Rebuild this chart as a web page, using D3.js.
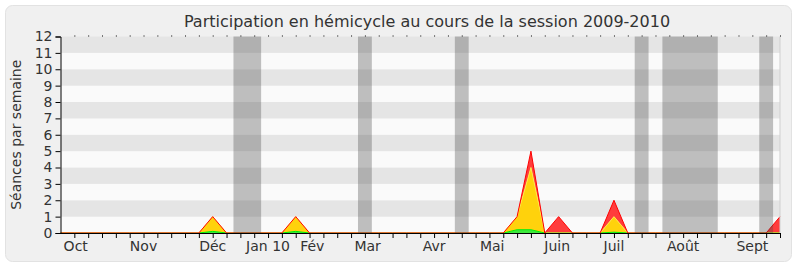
<!DOCTYPE html>
<html>
<head>
<meta charset="utf-8">
<script src="https://cdn.jsdelivr.net/npm/d3@7"></script>
<style>
  body { margin: 0; background: #fff; }
  text { font-family: "DejaVu Sans", sans-serif; fill: #333; }
</style>
</head>
<body>
<div id="chart"></div>
<script>
// weekly values, week 0 = start of Oct 2009, week 52 = end of Sept 2010
let green = [0,0,0,0,0,0,0,0,0,0, 0,0.1,0,0,0,0,0,0.1,0,0, 0,0,0,0,0,0,0,0,0,0, 0,0,0,0.2,0.2,0,0,0,0,0, 0.05,0,0,0,0,0,0,0,0,0, 0,0,0];
let yellow = [0,0,0,0,0,0,0,0,0,0, 0,0.9,0,0,0,0,0,0.9,0,0, 0,0,0,0,0,0,0,0,0,0, 0,0,0,0.8,3.8,0,0,0,0,0, 0.95,0,0,0,0,0,0,0,0,0, 0,0,0];
let red = [0,0,0,0,0,0,0,0,0,0, 0,0,0,0,0,0,0,0,0,0, 0,0,0,0,0,0,0,0,0,0, 0,0,0,0,1,0,1,0,0,0, 1,0,0,0,0,0,0,0,0,0, 0,0,1];

// holidays (start week, end week)
let holidayStart = [12.5, 21.5, 28.5, 41.5, 43.5, 50.5];
let holidayEnd = [14.5, 22.5, 29.5, 42.5, 47.5, 51.5];

// month labels and the week they sit on
let monthNames = ["Oct", "Nov", "Déc", "Jan 10", "Fév", "Mar", "Avr", "Mai", "Juin", "Juil", "Août", "Sept"];
let monthWeeks = [1.1, 6, 11, 15, 18.2, 22.2, 27, 31.2, 35.9, 40, 45, 50];

let yTicks = d3.range(0, 13);
let title = "Participation en hémicycle au cours de la session 2009-2010";
let yLabel = "Séances par semaine";

let width = 800, height = 267;
let margin = { top: 36.5, bottom: 34, left: 60.5, right: 20 };

let svg = d3.select("#chart").append("svg")
  .attr("width", width)
  .attr("height", height);

// panel background
svg.append("rect")
  .attr("x", 5.5).attr("y", 5.5)
  .attr("width", 786).attr("height", 256)
  .attr("rx", 7)
  .attr("fill", "#f0f0f0")
  .attr("stroke", "#e2e2e2");

let xScale = d3.scaleLinear().domain([0, 52]).range([margin.left, width - margin.right]);
let yScale = d3.scaleLinear().domain([0, 12]).range([height - margin.bottom, margin.top]);

// alternating horizontal bands
svg.append("g").selectAll("rect")
  .data(d3.range(12))
  .enter().append("rect")
    .attr("x", xScale(0))
    .attr("y", d => yScale(d + 1))
    .attr("width", xScale(52) - xScale(0))
    .attr("height", d => yScale(d) - yScale(d + 1))
    .attr("fill", d => d % 2 == 1 ? "#e5e5e5" : "#fafafa");

// stacked areas
let rows = green.map((g, i) => ({ week: i, green: g, yellow: yellow[i], red: red[i] }));
let stack = d3.stack().keys(["green", "yellow", "red"]);
let series = stack(rows);
let fills = { green: "#3ee83e", yellow: "#ffd20c", red: "#ff3c3c" };
let strokes = { green: "#00ee00", yellow: "#ffe84a", red: "#ff0000" };

let area = d3.area()
  .x(d => xScale(d.data.week))
  .y0(d => yScale(d[0]))
  .y1(d => yScale(d[1]));
let topLine = d3.line()
  .x(d => xScale(d.data.week))
  .y(d => yScale(d[1]));

series.slice().reverse().forEach(s => {
  svg.append("path")
    .datum(s)
    .attr("d", area)
    .attr("fill", fills[s.key]);
});
series.forEach(s => {
  svg.append("path")
    .datum(s)
    .attr("d", topLine)
    .attr("fill", "none")
    .attr("stroke", strokes[s.key])
    .attr("stroke-width", 1);
});

// holiday bars
svg.append("g").selectAll("rect")
  .data(holidayStart)
  .enter().append("rect")
    .attr("x", d => xScale(d))
    .attr("y", yScale(12))
    .attr("width", (d, i) => xScale(holidayEnd[i]) - xScale(d))
    .attr("height", yScale(0) - yScale(12))
    .attr("fill", "#464646")
    .attr("opacity", 0.33);

// right border
svg.append("line")
  .attr("x1", xScale(52)).attr("x2", xScale(52))
  .attr("y1", yScale(12)).attr("y2", yScale(0))
  .attr("stroke", "#cfcfcf");

// top dotted ticks
let topAxis = svg.append("g")
  .attr("transform", "translate(0," + yScale(12) + ")")
  .call(d3.axisTop(xScale).tickValues(d3.range(1, 53)).tickSize(1).tickFormat(""));
topAxis.select(".domain").remove();

// bottom axis with week ticks
svg.append("g")
  .attr("transform", "translate(0," + yScale(0) + ")")
  .call(d3.axisBottom(xScale).tickValues(d3.range(1, 53)).tickSizeInner(5).tickSizeOuter(0).tickFormat(""));

// month labels
svg.append("g").selectAll("text")
  .data(monthNames)
  .enter().append("text")
    .attr("x", (d, i) => xScale(monthWeeks[i]))
    .attr("y", 251)
    .attr("text-anchor", "middle")
    .style("font-size", "14px")
    .text(d => d);

// left axis
let leftAxis = svg.append("g")
  .attr("transform", "translate(" + xScale(0) + ",0)")
  .call(d3.axisLeft(yScale).tickValues(yTicks).tickSize(5).tickPadding(3));
leftAxis.selectAll("text")
  .style("font-size", "14px")
  .style("font-family", "DejaVu Sans")
  .attr("fill", "#333");

// titles
svg.append("text")
  .attr("x", 427)
  .attr("y", 26.5)
  .attr("text-anchor", "middle")
  .style("font-size", "16px")
  .text(title);

svg.append("text")
  .attr("transform", "translate(21," + ((yScale(0) + yScale(12)) / 2) + ")rotate(-90)")
  .attr("text-anchor", "middle")
  .style("font-size", "14px")
  .text(yLabel);
</script>
</body>
</html>
